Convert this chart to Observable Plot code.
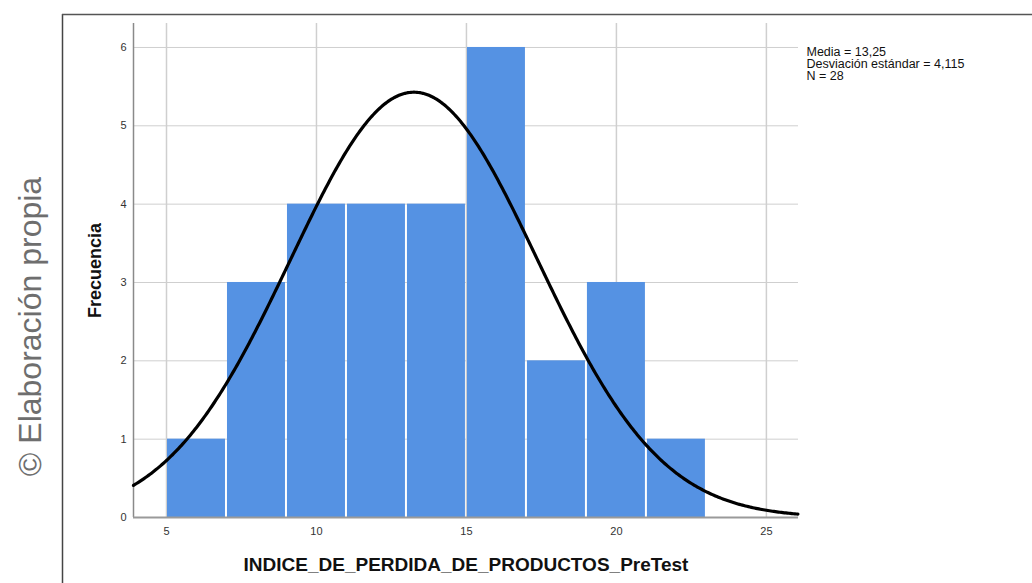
<!DOCTYPE html>
<html>
<head>
<meta charset="utf-8">
<script src="https://cdn.jsdelivr.net/npm/d3@7"></script>
<script src="https://cdn.jsdelivr.net/npm/@observablehq/plot@0.6"></script>
<style>
  html, body { margin: 0; padding: 0; background: #fff; }
  #chart svg { display: block; }
</style>
</head>
<body>
<div id="chart"></div>
<script>
// ---- Data ----
const binStarts = [5, 7, 9, 11, 13, 15, 17, 19, 21];
const binEnds   = [7, 9, 11, 13, 15, 17, 19, 21, 23];
const counts    = [1, 3, 4, 4, 4, 6, 2, 3, 1];
const xTicks = [5, 10, 15, 20, 25];
const yTicks = [0, 1, 2, 3, 4, 5, 6];
const statMean = 13.25;
const statSD = 4.115;
const statN = 28;
const statsLines = ["Media = 13,25", "Desviación estándar = 4,115", "N = 28"];
const xLabel = "INDICE_DE_PERDIDA_DE_PRODUCTOS_PreTest";
const yLabel = "Frecuencia";
const sideNote = "© Elaboración propia";

const xDomain = [3.9, 26.07];
const yDomain = [0, 6.306];

const bins = binStarts.map((s, i) => ({x1: s, x2: binEnds[i], count: counts[i]}));

// fitted normal curve defined by the printed statistics (scaled to counts per bin)
const binWidth = binEnds[0] - binStarts[0];
const curveXs = d3.range(xDomain[0], xDomain[1] + 0.001, 0.05);
const curve = curveXs.map(x => ({
  x,
  y: statN * binWidth * Math.exp(-0.5 * ((x - statMean) / statSD) ** 2) / (statSD * Math.sqrt(2 * Math.PI))
}));

const font = "Arial, 'Liberation Sans', sans-serif";

const chart = Plot.plot({
  width: 1032,
  height: 583,
  marginLeft: 133,
  marginRight: 234,
  marginTop: 23,
  marginBottom: 66,
  style: {fontFamily: font, background: "#fff", overflow: "visible"},
  x: {domain: xDomain},
  y: {domain: yDomain},
  marks: [
    Plot.gridY(yTicks, {stroke: "#cfcfcf", strokeOpacity: 1, strokeWidth: 1}),
    Plot.gridX(xTicks, {stroke: "#cfcfcf", strokeOpacity: 1, strokeWidth: 1.5}),
    Plot.rectY(bins, {x1: "x1", x2: "x2", y: "count", fill: "#5592e3", insetLeft: 1, insetRight: 1}),
    Plot.ruleX([xDomain[0]], {stroke: "#8a8a8a", strokeWidth: 1.5}),
    Plot.ruleY([0], {stroke: "#9a9a9a", strokeWidth: 2}),
    Plot.line(curve, {x: "x", y: "y", stroke: "#000", strokeWidth: 3.2, curve: "linear"}),
    Plot.axisX(xTicks, {tickSize: 0, tickPadding: 10, label: null, fontSize: 11, fill: "#333", tickFormat: d3.format("d")}),
    Plot.axisY(yTicks, {tickSize: 0, tickPadding: 7, label: null, fontSize: 11, fill: "#333", tickFormat: d3.format("d")}),
    Plot.text([statsLines.join("\n")], {
      frameAnchor: "top-right", dx: 8, dy: 24, textAnchor: "start", lineAnchor: "top",
      fontSize: 12.5, fill: "#111", lineHeight: 0.96
    }),
    Plot.text([xLabel], {frameAnchor: "bottom", dy: 53, textAnchor: "middle", fontSize: 19, fontWeight: "bold", fill: "#111"}),
    Plot.text([yLabel], {frameAnchor: "left", dx: -38, textAnchor: "middle", rotate: -90, fontSize: 18, fontWeight: "bold", fill: "#111"}),
    Plot.text([sideNote], {frameAnchor: "left", dx: -103, dy: 56, textAnchor: "middle", rotate: -90, fontSize: 32, fill: "#6e6e6e"})
  ]
});

document.getElementById("chart").appendChild(chart);

// outer panel border (top and left edges) as in the reference
const svg = d3.select(chart);
svg.insert("line", ":first-child")
  .attr("x1", 62).attr("y1", 14.5).attr("x2", 1032).attr("y2", 14.5)
  .attr("stroke", "#555").attr("stroke-width", 1.5);
svg.insert("line", ":first-child")
  .attr("x1", 62.5).attr("y1", 14).attr("x2", 62.5).attr("y2", 583)
  .attr("stroke", "#444").attr("stroke-width", 1.5);
</script>
</body>
</html>
